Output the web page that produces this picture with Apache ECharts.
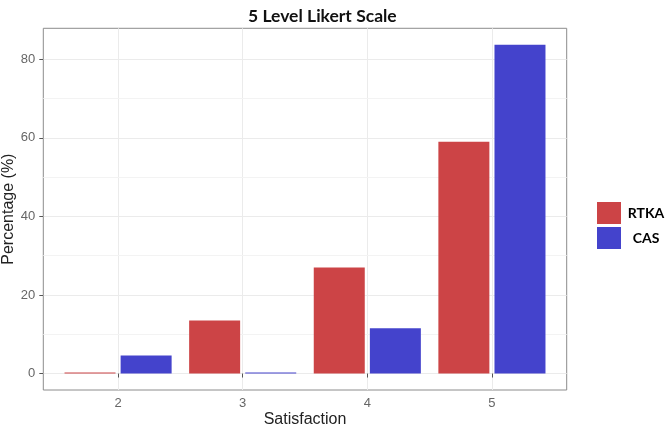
<!DOCTYPE html>
<html>
<head>
<meta charset="utf-8">
<title>5 Level Likert Scale</title>
<script src="https://cdn.jsdelivr.net/npm/echarts@6/dist/echarts.min.js"></script>
<style>
  html, body { margin: 0; padding: 0; background: #fff; }
  #chart { width: 666px; height: 429px; }
</style>
</head>
<body>
<div id="chart"></div>
<script>
// satisfaction levels (x) and percentages per group
const levels = [2, 3, 4, 5];
const rtka = [0, 13.5, 27.0, 59.0];
const cas = [4.6, 0, 11.5, 83.7];

const yTicks = [0, 20, 40, 60, 80];
const yMinor = [10, 30, 50, 70];

const RED = "#cc4446";
const BLUE = "#4443cc";
const GRID = "#ebebeb";
const TICK_TXT = "#666666";
const SANS = "'Liberation Sans', Arial, sans-serif";

function pairs(vals) {
  return levels.map((x, i) => [x, vals[i]]);
}

const chart = echarts.init(document.getElementById("chart"), null, { renderer: "canvas" });

chart.setOption({
  animation: false,
  backgroundColor: "#ffffff",
  title: {
    text: "5 Level Likert Scale",
    left: 243,
    top: 2,
    textStyle: { fontFamily: "Lato, 'Open Sans', sans-serif", fontSize: 17.5, fontWeight: "bold", color: "#111" },
  },
  legend: {
    orient: "vertical",
    left: 592,
    top: 197,
    itemWidth: 24,
    itemHeight: 22,
    itemGap: 3,
    icon: "rect",
    formatter: "{a|{name}}",
    textStyle: {
      rich: {
        a: { width: 40, align: "center", fontFamily: "Lato, sans-serif", fontSize: 14, fontWeight: "bold", color: "#000" },
      },
    },
    data: ["RTKA", "CAS"],
  },
  grid: {
    left: 43.3,
    right: 99.3,
    top: 28.3,
    bottom: 39,
    show: true,
    borderColor: "#8c8c8c",
    borderWidth: 1,
    backgroundColor: "transparent",
    outerBoundsMode: "none",
  },
  xAxis: {
    type: "value",
    min: 1.4,
    max: 5.6,
    name: "Satisfaction",
    nameLocation: "middle",
    nameGap: 22,
    nameMoveOverlap: false,
    nameTextStyle: { fontFamily: SANS, fontSize: 16, color: "#222" },
    axisLine: { show: false },
    axisTick: { show: true, customValues: levels, length: 4, lineStyle: { color: "#555" } },
    axisLabel: { customValues: levels, color: TICK_TXT, fontSize: 13, fontFamily: SANS, margin: 7 },
    splitLine: { show: true, lineStyle: { color: GRID, width: 1 } },
  },
  yAxis: {
    type: "value",
    min: -4.19,
    max: 87.9,
    name: "Percentage (%)",
    nameLocation: "middle",
    nameGap: 27,
    nameMoveOverlap: false,
    nameTextStyle: { fontFamily: SANS, fontSize: 16, color: "#222" },
    axisLine: { show: false },
    axisTick: { show: true, customValues: yTicks, length: 4, lineStyle: { color: "#555" } },
    axisLabel: { customValues: yTicks, color: TICK_TXT, fontSize: 13, fontFamily: SANS, margin: 8 },
    splitLine: { show: true, lineStyle: { color: GRID, width: 1 } },
  },
  series: [
    {
      name: "RTKA",
      type: "bar",
      data: pairs(rtka),
      barWidth: 51,
      barGap: "10%",
      barMinHeight: 1,
      itemStyle: { color: RED },
      markLine: {
        silent: true,
        z: 1,
        symbol: "none",
        label: { show: false },
        lineStyle: { color: "#f3f3f3", width: 1, type: "solid" },
        data: yMinor.map((v) => ({ yAxis: v })),
      },
    },
    {
      name: "CAS",
      type: "bar",
      data: pairs(cas),
      barWidth: 51,
      barGap: "10%",
      barMinHeight: 1,
      itemStyle: { color: BLUE },
    },
  ],
});
</script>
</body>
</html>
